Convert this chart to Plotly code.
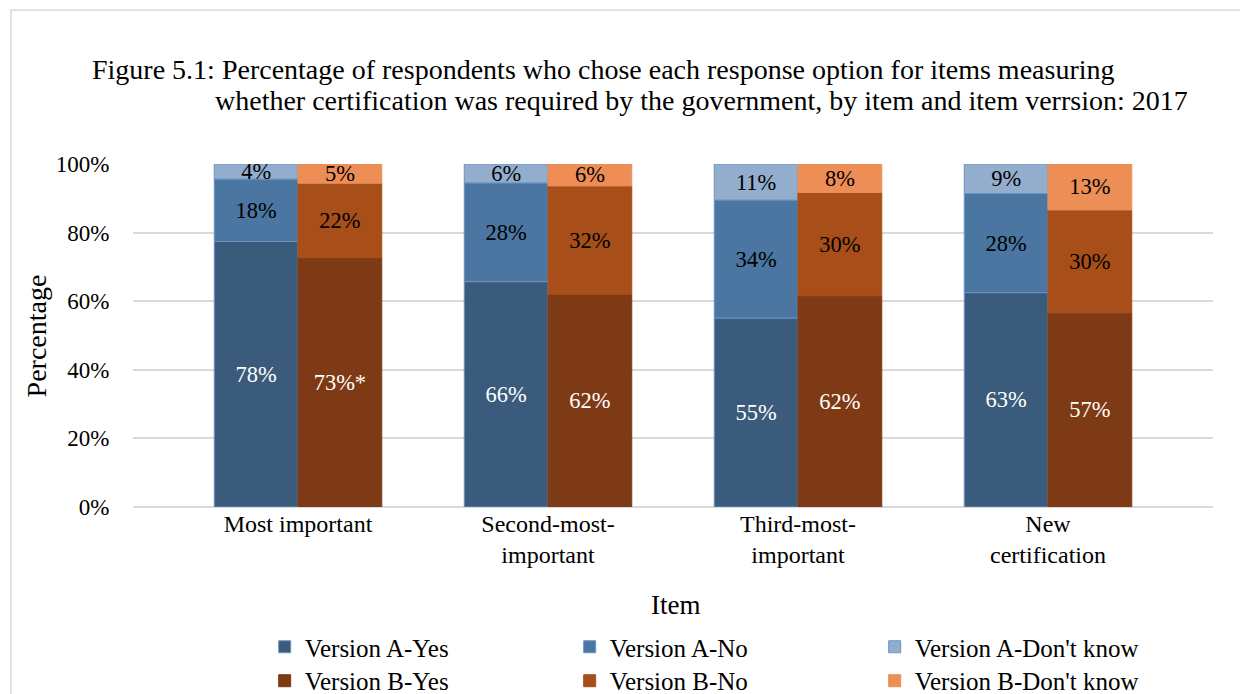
import numpy as np
import plotly.graph_objects as go

# Items on the x axis (multi-line labels as in the original figure)
items = ["Most important", "Second-most-<br>important", "Third-most-<br>important", "New<br>certification"]

# Bar heights (percent)
a_yes = [77.4, 65.7, 55.1, 62.5]
a_no = [18.2, 28.8, 34.4, 28.9]
a_dk = [4.4, 5.5, 10.5, 8.6]
b_yes = [72.7, 62.0, 61.6, 56.6]
b_no = [21.7, 31.6, 30.1, 30.0]
b_dk = [5.6, 6.4, 8.3, 13.4]

# Data labels as printed on the bars
a_yes_lbl = ["78%", "66%", "55%", "63%"]
a_no_lbl = ["18%", "28%", "34%", "28%"]
a_dk_lbl = ["4%", "6%", "11%", "9%"]
b_yes_lbl = ["73%*", "62%", "62%", "57%"]
b_no_lbl = ["22%", "32%", "30%", "30%"]
b_dk_lbl = ["5%", "6%", "8%", "13%"]

FONT = "Liberation Serif, Times New Roman, serif"

# name, group, values, labels, colour, label colour, legend
series = [
    ("Version A-Yes", "A", a_yes, a_yes_lbl, "#3A5B7B", "white", "legend"),
    ("Version A-No", "A", a_no, a_no_lbl, "#4A76A1", "black", "legend"),
    ("Version A-Don't know", "A", a_dk, a_dk_lbl, "#93AECD", "black", "legend"),
    ("Version B-Yes", "B", b_yes, b_yes_lbl, "#7E3A14", "white", "legend2"),
    ("Version B-No", "B", b_no, b_no_lbl, "#A84E18", "black", "legend2"),
    ("Version B-Don't know", "B", b_dk, b_dk_lbl, "#EC8E56", "black", "legend2"),
]

fig = go.Figure()

# stack manually inside each version group
bases = {"A": np.zeros(len(items)), "B": np.zeros(len(items))}
for name, grp, vals, lbl, color, tcolor, leg in series:
    vals = np.array(vals)
    fig.add_trace(go.Bar(
        x=items,
        y=vals,
        base=bases[grp].copy(),
        name=name,
        offsetgroup=grp,
        legend=leg,
        text=lbl,
        textposition="inside",
        insidetextanchor="middle",
        textangle=0,
        textfont=dict(family=FONT, size=22.5, color=tcolor),
        marker=dict(color=color,
                    line=dict(color="#6B93C2" if grp == "A" else color, width=1)),
    ))
    bases[grp] = bases[grp] + vals

legend_common = dict(
    orientation="h",
    xref="container", yref="container",
    x=0.207, xanchor="left", yanchor="middle",
    entrywidth=260, entrywidthmode="pixels",
    font=dict(family=FONT, size=25),
    traceorder="normal",
)

# page body adds an 8px margin, so the figure is 8px smaller than the window
fig.update_layout(
    width=1240,
    height=686,
    barmode="group",
    bargap=0.33,
    bargroupgap=0,
    plot_bgcolor="white",
    paper_bgcolor="white",
    font=dict(family=FONT, size=22, color="black"),
    margin=dict(l=125, r=35, t=156, b=187),
    uniformtext=dict(minsize=22.5, mode="show"),
    showlegend=True,
    legend=dict(legend_common, y=0.0685),
    legend2=dict(legend_common, y=0.019),
    xaxis=dict(
        range=[-0.66, 3.66],
        showgrid=False,
        showline=False,
        ticks="",
        automargin=False,
        tickfont=dict(family=FONT, size=24),
    ),
    yaxis=dict(
        range=[0, 100],
        tickvals=[0, 20, 40, 60, 80, 100],
        ticktext=["0%", "20%", "40%", "60%", "80%", "100%"],
        showgrid=True,
        gridcolor="#D9D9D9",
        gridwidth=1.5,
        zeroline=True,
        zerolinecolor="#D9D9D9",
        zerolinewidth=1.5,
        showline=False,
        ticks="outside",
        ticklen=18,
        tickcolor="white",
        automargin=False,
        tickfont=dict(family=FONT, size=23),
    ),
)

# title, two lines with a hanging indent
fig.add_annotation(text="Figure 5.1: Percentage of respondents who chose each response option for items measuring",
                   xref="paper", yref="paper", x=-0.0398, y=1.276, xanchor="left", yanchor="middle",
                   showarrow=False, font=dict(family=FONT, size=28))
fig.add_annotation(text="whether certification was required by the government, by item and item verrsion: 2017",
                   xref="paper", yref="paper", x=0.074, y=1.185, xanchor="left", yanchor="middle",
                   showarrow=False, font=dict(family=FONT, size=28))

# axis titles
fig.add_annotation(text="Percentage", xref="paper", yref="paper", x=-0.089, y=0.5,
                   xanchor="center", yanchor="middle",
                   textangle=-90, showarrow=False, font=dict(family=FONT, size=28))
fig.add_annotation(text="Item", xref="paper", yref="paper", x=0.502, y=-0.286,
                   xanchor="center", yanchor="middle", showarrow=False, font=dict(family=FONT, size=27))

# outer chart border
fig.add_shape(type="rect", xref="paper", yref="paper", x0=-0.113, x1=1.3, y0=-1, y1=1.449,
              line=dict(color="#D9D9D9", width=1.5), fillcolor="rgba(0,0,0,0)", layer="below")

fig.write_html("out.html")
